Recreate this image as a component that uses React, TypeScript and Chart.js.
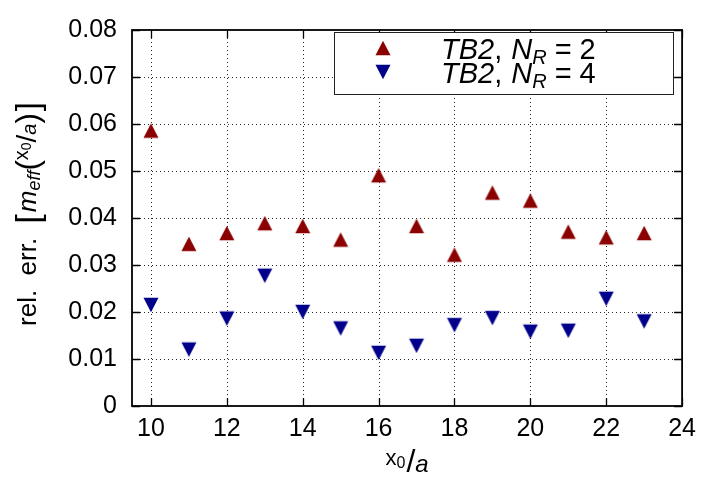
import React, { useEffect, useRef } from "react";
import { Chart, registerables } from "chart.js";

Chart.register(...registerables);

const xValues = [10, 11, 12, 13, 14, 15, 16, 17, 18, 19, 20, 21, 22, 23];
const nr2Values = [0.0586, 0.0345, 0.0368, 0.0389, 0.0383, 0.0354, 0.0491, 0.0383, 0.0322, 0.0454, 0.0437, 0.0371, 0.0359, 0.0368];
const nr4Values = [0.0215, 0.012, 0.0186, 0.0277, 0.02, 0.0165, 0.0113, 0.0128, 0.0172, 0.0187, 0.0158, 0.016, 0.0228, 0.018];
const xTicks = [10, 12, 14, 16, 18, 20, 22, 24];
const yTicks = [0, 0.01, 0.02, 0.03, 0.04, 0.05, 0.06, 0.07, 0.08];
const seriesNames = ["2", "4"];

const RED = "#8b0000";
const BLUE = "#00008b";
const FONT = '"Liberation Sans", Arial, sans-serif';

function triangle(color: string, up: boolean): HTMLCanvasElement {
  const c = document.createElement("canvas");
  c.width = 18;
  c.height = 18;
  const g = c.getContext("2d")!;
  const h = 14.5;
  const w = 15;
  const cx = 9, cy = 9;
  g.beginPath();
  if (up) {
    g.moveTo(cx, cy - h / 2);
    g.lineTo(cx + w / 2, cy + h / 2);
    g.lineTo(cx - w / 2, cy + h / 2);
  } else {
    g.moveTo(cx, cy + h / 2);
    g.lineTo(cx + w / 2, cy - h / 2);
    g.lineTo(cx - w / 2, cy - h / 2);
  }
  g.closePath();
  g.fillStyle = color;
  g.fill();
  return c;
}

type Seg = { t: string; size: number; italic?: boolean; dy?: number; gap?: number };

function drawSegs(ctx: CanvasRenderingContext2D, segs: Seg[], x: number, y: number, align: "center" | "left") {
  let total = 0;
  const widths = segs.map((s) => {
    ctx.font = `${s.italic ? "italic " : ""}${s.size}px ${FONT}`;
    const w = ctx.measureText(s.t).width + (s.gap || 0);
    total += w;
    return w;
  });
  let cx = align === "center" ? x - total / 2 : x;
  ctx.textBaseline = "alphabetic";
  ctx.textAlign = "left";
  segs.forEach((s, i) => {
    ctx.font = `${s.italic ? "italic " : ""}${s.size}px ${FONT}`;
    ctx.fillText(s.t, cx, y + (s.dy || 0));
    cx += widths[i];
  });
}

const decorPlugin = {
  id: "decor",
  beforeDatasetsDraw(chart: any) {
    const { ctx, chartArea: a, scales } = chart;
    const xs = scales.x, ys = scales.y;
    ctx.save();
    ctx.strokeStyle = "rgba(0,0,0,0.85)";
    ctx.lineWidth = 1;
    ctx.setLineDash([1, 3]);
    xTicks.forEach((v) => {
      const px = Math.round(xs.getPixelForValue(v)) + 0.5;
      if (px > a.right - 2) return;
      ctx.beginPath();
      ctx.moveTo(px, a.top);
      ctx.lineTo(px, a.bottom);
      ctx.stroke();
    });
    yTicks.forEach((v) => {
      const py = Math.round(ys.getPixelForValue(v)) + 0.5;
      if (py < a.top + 2 || py > a.bottom - 2) return;
      ctx.beginPath();
      ctx.moveTo(a.left, py);
      ctx.lineTo(a.right, py);
      ctx.stroke();
    });
    ctx.restore();
  },
  afterDatasetsDraw(chart: any) {
    const { ctx, chartArea: a, scales } = chart;
    const xs = scales.x, ys = scales.y;
    ctx.save();
    ctx.setLineDash([]);
    ctx.strokeStyle = "#000";
    ctx.lineWidth = 1.3;
    const tl = 8;
    xTicks.forEach((v) => {
      const px = Math.round(xs.getPixelForValue(v)) + 0.5;
      ctx.beginPath();
      ctx.moveTo(px, a.bottom);
      ctx.lineTo(px, a.bottom - tl);
      ctx.moveTo(px, a.top);
      ctx.lineTo(px, a.top + tl);
      ctx.stroke();
    });
    yTicks.forEach((v) => {
      const py = Math.round(ys.getPixelForValue(v)) + 0.5;
      ctx.beginPath();
      ctx.moveTo(a.left, py);
      ctx.lineTo(a.left + tl, py);
      ctx.moveTo(a.right, py);
      ctx.lineTo(a.right - tl, py);
      ctx.stroke();
    });
    ctx.lineWidth = 1.8;
    ctx.strokeRect(a.left, a.top, a.right - a.left, a.bottom - a.top);

    // legend
    const lx = 334.5, ly = 32.5, lw = 339, lh = 62;
    ctx.fillStyle = "#fff";
    ctx.fillRect(lx, ly, lw, lh);
    ctx.lineWidth = 1;
    ctx.strokeStyle = "#222";
    ctx.strokeRect(lx, ly, lw, lh);
    const markers = [triangle(RED, true), triangle(BLUE, false)];
    const rows = [48, 72];
    ctx.fillStyle = "#000";
    rows.forEach((ry, i) => {
      const m = markers[i];
      ctx.drawImage(m, 383 - m.width / 2, ry - m.height / 2);
      drawSegs(
        ctx,
        [
          { t: "TB2", size: 29, italic: true },
          { t: ", ", size: 29, gap: 1 },
          { t: "N", size: 29, italic: true },
          { t: "R", size: 20, italic: true, dy: 5, gap: 8 },
          { t: "=", size: 29, gap: 8 },
          { t: seriesNames[i], size: 29 },
        ],
        441,
        ry + 11,
        "left"
      );
    });

    // x title
    ctx.fillStyle = "#000";
    drawSegs(
      ctx,
      [
        { t: "x", size: 22, dy: -7 },
        { t: "0", size: 16, dy: -4, gap: 1 },
        { t: "/", size: 32 },
        { t: "a", size: 24, italic: true },
      ],
      (a.left + a.right) / 2,
      472,
      "center"
    );

    // y title
    ctx.translate(36, (a.top + a.bottom) / 2 - 4);
    ctx.rotate(-Math.PI / 2);
    drawSegs(
      ctx,
      [
        { t: "rel.  err.  ", size: 26 },
        { t: "[", size: 33, dy: 3, gap: 2 },
        { t: "m", size: 26, italic: true },
        { t: "eff", size: 18, italic: true, dy: 4 },
        { t: "(", size: 31, dy: 2 },
        { t: "x", size: 20, dy: -8 },
        { t: "0", size: 14, dy: -5 },
        { t: "/", size: 28 },
        { t: "a", size: 20, italic: true },
        { t: ")", size: 31, dy: 2, gap: 2 },
        { t: "]", size: 33, dy: 3 },
      ],
      0,
      0,
      "center"
    );
    ctx.restore();
  },
};

export default function App() {
  const ref = useRef<HTMLCanvasElement | null>(null);
  useEffect(() => {
    if (!ref.current) return;
    const up = triangle(RED, true);
    const down = triangle(BLUE, false);
    const chart = new Chart(ref.current, {
      type: "scatter",
      data: {
        datasets: [
          {
            label: "TB2, N_R = 2",
            data: xValues.map((x, i) => ({ x, y: nr2Values[i] })),
            pointStyle: up as any,
            pointRadius: 8,
            backgroundColor: RED,
            borderColor: RED,
          },
          {
            label: "TB2, N_R = 4",
            data: xValues.map((x, i) => ({ x, y: nr4Values[i] })),
            pointStyle: down as any,
            pointRadius: 8,
            backgroundColor: BLUE,
            borderColor: BLUE,
          },
        ],
      },
      options: {
        animation: false,
        responsive: false,
        devicePixelRatio: 1,
        layout: { padding: { left: 0, top: 22, right: 20, bottom: 0 } },
        plugins: { legend: { display: false }, tooltip: { enabled: false } },
        scales: {
          x: {
            type: "linear",
            min: 9.5,
            max: 24,
            afterBuildTicks: (s: any) => {
              s.ticks = xTicks.map((v) => ({ value: v }));
            },
            afterFit: (s: any) => {
              s.height = 73;
            },
            grid: { display: false, drawTicks: false },
            border: { display: false },
            ticks: {
              color: "#000",
              padding: 8,
              font: { family: FONT, size: 25 },
              maxRotation: 0,
            },
          },
          y: {
            type: "linear",
            min: 0,
            max: 0.08,
            afterBuildTicks: (s: any) => {
              s.ticks = yTicks.map((v) => ({ value: v }));
            },
            afterFit: (s: any) => {
              s.width = 132;
            },
            grid: { display: false, drawTicks: false },
            border: { display: false },
            ticks: {
              color: "#000",
              padding: 15,
              font: { family: FONT, size: 25 },
              callback: (v: any) => (Number(v) === 0 ? "0" : Number(v).toFixed(2)),
            },
          },
        },
      },
      plugins: [decorPlugin],
    });
    return () => chart.destroy();
  }, []);
  return (
    <div style={{ position: "fixed", left: 0, top: 0, width: 704, height: 479, background: "#fff" }}>
      <canvas ref={ref} width={704} height={479} />
    </div>
  );
}
